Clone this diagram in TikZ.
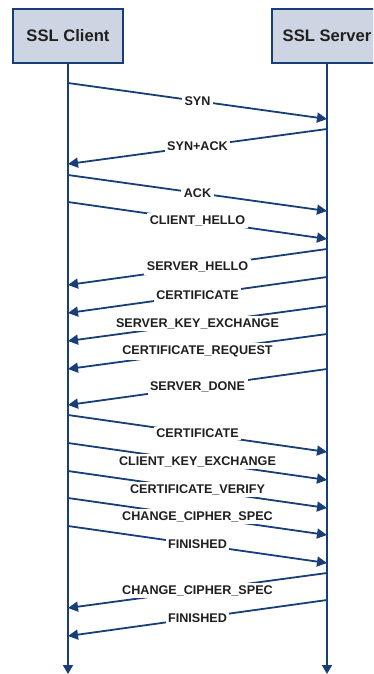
\documentclass[tikz,border=0pt]{standalone}
\usepackage{fontspec}
\setmainfont{Liberation Sans}
\usepackage{tikz}
\usetikzlibrary{arrows.meta}
\definecolor{seq-line}{RGB}{23,62,118}
\definecolor{party-fill}{RGB}{205,213,226}
\colorlet{msg-text}{black!88}
\tikzset{
    party/.style = {draw=seq-line, line width=1.6pt, fill=party-fill,
        minimum width=110pt, minimum height=54pt,
        font=\fontsize{16.6}{18}\selectfont\bfseries, text=msg-text},
    lifeline/.style = {draw=seq-line, line width=1.8pt, -{Triangle[length=9pt,width=10pt]}},
    msg/.style = {draw=seq-line, line width=1.8pt, -{Triangle[length=10pt,width=10pt]}},
    msglabel/.style = {fill=white, inner sep=2.5pt, outer sep=0pt,
        font=\fontsize{12.6}{14}\selectfont\bfseries, text=msg-text},
}

\begin{document}
\begin{tikzpicture}[x=1pt,y=-1pt]

\useasboundingbox (0,0) rectangle (373,674);
\clip (0,0) rectangle (373,674);

\node[party] (client) at (68,36) {SSL Client};
\node[party] (server) at (327,36) {SSL Server};

\coordinate (client-end) at (68,674);
\coordinate (server-end) at (327,674);
\draw[lifeline] (client) -- (client-end);
\draw[lifeline] (server) -- (server-end);

% handshake of the tcp connection
\coordinate (syn-c) at (68,83);     \coordinate (syn-s) at (327,119);
\coordinate (synack-s) at (327,129); \coordinate (synack-c) at (68,164);
\coordinate (ack-c) at (68,175);    \coordinate (ack-s) at (327,211);
\draw[msg] (syn-c) -- node[msglabel] {SYN} (syn-s);
\draw[msg] (synack-s) -- node[msglabel] {SYN+ACK} (synack-c);
\draw[msg] (ack-c) -- node[msglabel] {ACK} (ack-s);

% hello and server side messages
\coordinate (chello-c) at (68,202); \coordinate (chello-s) at (327,239);
\coordinate (shello-s) at (327,249); \coordinate (shello-c) at (68,285);
\coordinate (scert-s) at (327,277); \coordinate (scert-c) at (68,313);
\coordinate (skey-s) at (327,306);  \coordinate (skey-c) at (68,341);
\coordinate (creq-s) at (327,334);  \coordinate (creq-c) at (68,369);
\coordinate (sdone-s) at (327,369); \coordinate (sdone-c) at (68,405);
\draw[msg] (chello-c) -- node[msglabel] {CLIENT\_HELLO} (chello-s);
\draw[msg] (shello-s) -- node[msglabel] {SERVER\_HELLO} (shello-c);
\draw[msg] (scert-s) -- node[msglabel] {CERTIFICATE} (scert-c);
\draw[msg] (skey-s) -- node[msglabel] {SERVER\_KEY\_EXCHANGE} (skey-c);
\draw[msg] (creq-s) -- node[msglabel] {CERTIFICATE\_REQUEST} (creq-c);
\draw[msg] (sdone-s) -- node[msglabel] {SERVER\_DONE} (sdone-c);

% client side messages
\coordinate (ccert-c) at (68,415);  \coordinate (ccert-s) at (327,452);
\coordinate (ckey-c) at (68,443);   \coordinate (ckey-s) at (327,480);
\coordinate (cver-c) at (68,471);   \coordinate (cver-s) at (327,508);
\coordinate (cccs-c) at (68,498);   \coordinate (cccs-s) at (327,535);
\coordinate (cfin-c) at (68,526);   \coordinate (cfin-s) at (327,563);
\draw[msg] (ccert-c) -- node[msglabel] {CERTIFICATE} (ccert-s);
\draw[msg] (ckey-c) -- node[msglabel] {CLIENT\_KEY\_EXCHANGE} (ckey-s);
\draw[msg] (cver-c) -- node[msglabel] {CERTIFICATE\_VERIFY} (cver-s);
\draw[msg] (cccs-c) -- node[msglabel] {CHANGE\_CIPHER\_SPEC} (cccs-s);
\draw[msg] (cfin-c) -- node[msglabel] {FINISHED} (cfin-s);

% server finishes
\coordinate (sccs-s) at (327,573);  \coordinate (sccs-c) at (68,608);
\coordinate (sfin-s) at (327,600);  \coordinate (sfin-c) at (68,636);
\draw[msg] (sccs-s) -- node[msglabel] {CHANGE\_CIPHER\_SPEC} (sccs-c);
\draw[msg] (sfin-s) -- node[msglabel] {FINISHED} (sfin-c);

\end{tikzpicture}
\end{document}
